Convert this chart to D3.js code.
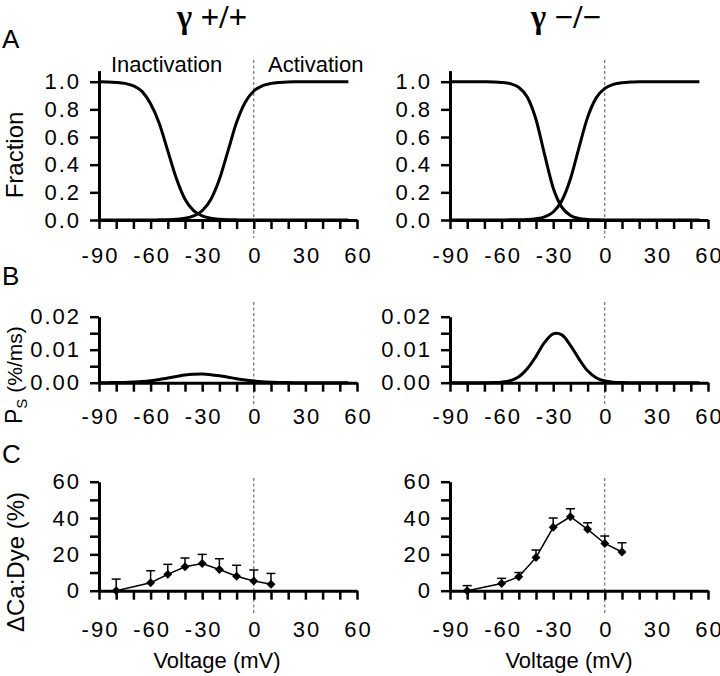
<!DOCTYPE html>
<html>
<head>
<meta charset="utf-8">
<script src="https://cdn.jsdelivr.net/npm/d3@7"></script>
<style>
  body { margin: 0; background: #fff; }
  svg { display: block; }
  text { font-family: "Liberation Sans", Arial, sans-serif; fill: #000; }
</style>
</head>
<body>
<div id="chart"></div>
<script>
// ---------- data ----------
// voltage samples for the fitted curves (mV)
var volts = [-90, -85, -80, -75, -70, -65, -60, -55, -50, -45, -40, -35, -30, -25, -20,
             -15, -10, -5, 0, 5, 10, 15, 20, 25, 30, 35, 40, 45, 50, 55];

// A: steady-state inactivation / activation (fraction)
var inactWT = [0.999, 0.998, 0.995, 0.988, 0.970, 0.930, 0.840, 0.700, 0.500, 0.300, 0.150, 0.068, 0.030, 0.012, 0.005,
               0.002, 0.001, 0, 0, 0, 0, 0, 0, 0, 0, 0, 0, 0, 0, 0];
var actWT   = [0, 0, 0, 0, 0, 0, 0, 0.001, 0.002, 0.005, 0.012, 0.029, 0.067, 0.148, 0.294,
               0.500, 0.706, 0.852, 0.933, 0.971, 0.988, 0.995, 0.998, 0.999, 1, 1, 1, 1, 1, 1];
var inactKO = [1, 1, 1, 1, 0.999, 0.998, 0.995, 0.986, 0.959, 0.888, 0.727, 0.473, 0.232, 0.093, 0.033,
               0.011, 0.004, 0.001, 0, 0, 0, 0, 0, 0, 0, 0, 0, 0, 0, 0];
var actKO   = [0, 0, 0, 0, 0, 0, 0, 0.001, 0.001, 0.003, 0.009, 0.023, 0.058, 0.139, 0.296,
               0.524, 0.742, 0.883, 0.952, 0.981, 0.993, 0.997, 0.999, 1, 1, 1, 1, 1, 1, 1];

// B: Ps (%/ms)
var psWT = [0, 0.00002, 0.00004, 0.00009, 0.0002, 0.00035, 0.0006, 0.00096, 0.0014, 0.00185, 0.0023, 0.00253, 0.0026, 0.00244, 0.0021,
            0.00167, 0.0012, 0.0008, 0.0005, 0.00028, 0.00014, 0.00007, 0.00003, 0, 0, 0, 0, 0, 0, 0];
var psKO = [0, 0, 0, 0, 0.00001, 0.00004, 0.00017, 0.0006, 0.0018, 0.0043, 0.008, 0.0122, 0.0148, 0.0145, 0.0113,
            0.0072, 0.0036, 0.0015, 0.0005, 0.00013, 0.00003, 0, 0, 0, 0, 0, 0, 0, 0, 0];

// C: dCa:Dye (%) mean and upper error
var cVolts = [-80, -60, -50, -40, -30, -20, -10, 0, 10];
var cWT    = [0, 4.4, 9, 13.2, 15, 11.7, 8, 5.3, 3.5];
var cWTerr = [6.4, 6.6, 5.5, 4.8, 5, 5.9, 6, 6.1, 6];
var cKO    = [0, 4, 7.7, 18.3, 34.9, 40.7, 33.8, 26, 21.3];
var cKOerr = [2.8, 2.8, 2.3, 4.1, 5.1, 4.4, 3.6, 4.1, 5.1];

// ticks
var xTicks  = [-90, -80, -70, -60, -50, -40, -30, -20, -10, 0, 10, 20, 30, 40, 50, 60];
var xLabels = [-90, -60, -30, 0, 30, 60];
var yTicksA = [0, 0.2, 0.4, 0.6, 0.8, 1.0];
var yTicksB = [0, 0.005, 0.01, 0.015, 0.02];
var yLabelsB = [0, 0.01, 0.02];
var yTicksC = [0, 10, 20, 30, 40, 50, 60];
var yLabelsC = [0, 20, 40, 60];

var titles = ["\u03b3 +/+", "\u03b3 \u2212/\u2212"];

// ---------- layout ----------
var width = 720, height = 676;

var svg = d3.select("#chart").append("svg")
    .attr("width", width)
    .attr("height", height);

var cols = [{x0: 99, x1: 357, title: 212, vlab: 217},
            {x0: 450, x1: 708, title: 566, vlab: 569}];

var rows = {
  A: {y0: 220, y1: 220 - 138.3 * 1.08, dom: [0, 1.08], dash: [60, 238], pad: 18},
  B: {y0: 382.7, y1: 316.7, dom: [0, 0.02], dash: [302, 405], pad: 17},
  C: {y0: 590.7, y1: 481.7, dom: [0, 60], dash: [478, 613], pad: 22}
};

function styleAxis(g) {
  g.select(".domain").attr("stroke", "#000").attr("stroke-width", 3);
  g.selectAll(".tick line").attr("stroke", "#000").attr("stroke-width", 2.5);
  g.selectAll(".tick text")
    .attr("font-family", "Liberation Sans, Arial, sans-serif")
    .attr("font-size", 22)
    .attr("letter-spacing", "2px")
    .attr("fill", "#000");
}

function drawPanel(col, row, yTicks, yFmt) {
  var x = d3.scaleLinear().domain([-90, 60]).range([col.x0, col.x1]);
  var y = d3.scaleLinear().domain(row.dom).range([row.y0, row.y1]);
  var g = svg.append("g");

  // zero-voltage dashed marker
  g.append("line")
    .attr("x1", x(0)).attr("x2", x(0))
    .attr("y1", row.dash[0]).attr("y2", row.dash[1])
    .attr("stroke", "#555")
    .attr("stroke-width", 1)
    .attr("stroke-dasharray", "3,2.5");

  var xa = g.append("g")
    .attr("transform", "translate(0," + row.y0 + ")")
    .call(d3.axisBottom(x).tickValues(xTicks).tickSize(9).tickSizeOuter(0)
      .tickPadding(row.pad)
      .tickFormat(function(d) { return xLabels.indexOf(d) >= 0 ? d : ""; }));
  styleAxis(xa);
  xa.selectAll(".tick text").attr("dx", "1px");

  var ya = g.append("g")
    .attr("transform", "translate(" + col.x0 + ",0)")
    .call(d3.axisLeft(y).tickValues(yTicks).tickSize(9).tickSizeOuter(0)
      .tickPadding(9).tickFormat(yFmt));
  styleAxis(ya);

  return {g: g, x: x, y: y};
}

function curve(p, vals, shape) {
  var line = d3.line()
    .x(function(d, i) { return p.x(volts[i]); })
    .y(function(d) { return p.y(d); })
    .curve(shape || d3.curveMonotoneX);
  p.g.append("path")
    .datum(vals)
    .attr("d", line)
    .attr("fill", "none")
    .attr("stroke", "#000")
    .attr("stroke-width", 3)
    .attr("stroke-linejoin", "round");
}

function points(p, vals, errs) {
  // upper error bars
  var eb = p.g.selectAll(".eb").data(vals).enter().append("g");
  eb.append("line")
    .attr("x1", function(d, i) { return p.x(cVolts[i]); })
    .attr("x2", function(d, i) { return p.x(cVolts[i]); })
    .attr("y1", function(d) { return p.y(d); })
    .attr("y2", function(d, i) { return p.y(d + errs[i]); })
    .attr("stroke", "#000").attr("stroke-width", 1.5);
  eb.append("line")
    .attr("x1", function(d, i) { return p.x(cVolts[i]) - 4.5; })
    .attr("x2", function(d, i) { return p.x(cVolts[i]) + 4.5; })
    .attr("y1", function(d, i) { return p.y(d + errs[i]); })
    .attr("y2", function(d, i) { return p.y(d + errs[i]); })
    .attr("stroke", "#000").attr("stroke-width", 1.5);

  var line = d3.line()
    .x(function(d, i) { return p.x(cVolts[i]); })
    .y(function(d) { return p.y(d); });
  p.g.append("path")
    .datum(vals)
    .attr("d", line)
    .attr("fill", "none")
    .attr("stroke", "#000")
    .attr("stroke-width", 1.5);

  p.g.selectAll(".pt").data(vals).enter().append("path")
    .attr("d", d3.symbol().type(d3.symbolSquare).size(40))
    .attr("transform", function(d, i) {
      return "translate(" + p.x(cVolts[i]) + "," + p.y(d) + ") rotate(45)";
    })
    .attr("fill", "#000");
}

var fmtA = d3.format(".1f");
var fmtB = function(d) { return yLabelsB.indexOf(d) >= 0 ? d3.format(".2f")(d) : ""; };
var fmtC = function(d) { return yLabelsC.indexOf(d) >= 0 ? d : ""; };

var series = [
  {inact: inactWT, act: actWT, ps: psWT, c: cWT, cErr: cWTerr},
  {inact: inactKO, act: actKO, ps: psKO, c: cKO, cErr: cKOerr}
];

cols.forEach(function(col, ci) {
  var s = series[ci];
  var pA = drawPanel(col, rows.A, yTicksA, fmtA);
  curve(pA, s.inact);
  curve(pA, s.act);

  var pB = drawPanel(col, rows.B, yTicksB, fmtB);
  curve(pB, s.ps, d3.curveCatmullRom);

  var pC = drawPanel(col, rows.C, yTicksC, fmtC);
  points(pC, s.c, s.cErr);

  // column title
  svg.append("text")
    .attr("x", col.title).attr("y", 28)
    .attr("text-anchor", "middle")
    .style("font-family", "'Liberation Serif', 'Times New Roman', serif")
    .style("font-size", "33px")
    .style("font-weight", "bold")
    .text(titles[ci]);

  svg.append("text")
    .attr("x", col.vlab).attr("y", 668)
    .attr("text-anchor", "middle")
    .style("font-size", "22px")
    .text("Voltage (mV)");
});

// panel letters
[["A", 48], ["B", 285], ["C", 463]].forEach(function(d) {
  svg.append("text")
    .attr("x", 2).attr("y", d[1])
    .style("font-size", "26px")
    .text(d[0]);
});

// labels in panel A
svg.append("text").attr("x", 111).attr("y", 72).style("font-size", "22px").text("Inactivation");
svg.append("text").attr("x", 268).attr("y", 72).style("font-size", "22px").text("Activation");

// y-axis titles
svg.append("text")
  .attr("transform", "translate(23,155) rotate(-90)")
  .attr("text-anchor", "middle")
  .style("font-size", "24px")
  .text("Fraction");

var ps = svg.append("text")
  .attr("transform", "translate(22,424) rotate(-90)")
  .attr("text-anchor", "start")
  .style("font-size", "23px");
ps.append("tspan").text("P");
ps.append("tspan").attr("dy", 5).style("font-size", "15px").text("S");
ps.append("tspan").attr("dy", -5).attr("dx", 6).style("font-size", "21px").text("(%/ms)");

svg.append("text")
  .attr("transform", "translate(24,562) rotate(-90)")
  .attr("text-anchor", "middle")
  .style("font-size", "24px")
  .text("\u0394Ca:Dye (%)");
</script>
</body>
</html>
